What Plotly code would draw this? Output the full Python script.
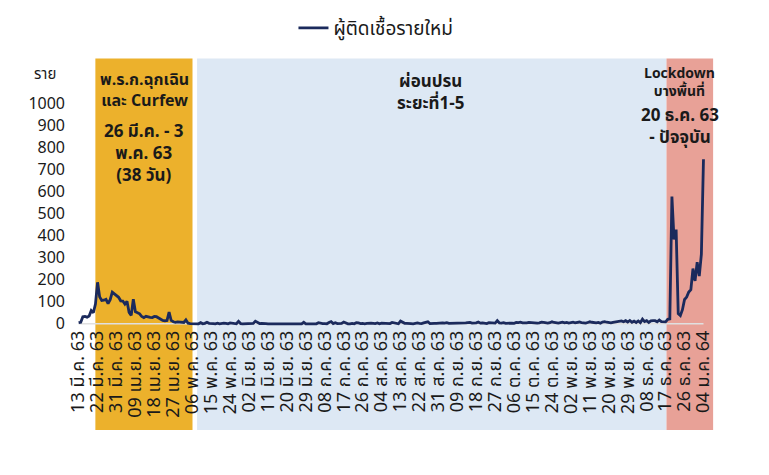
import pandas as pd
import plotly.graph_objects as go

# daily new cases, 13 Mar 2020 - 4 Jan 2021
mar = [5, 7, 32, 33, 30, 35, 60, 50, 89, 188, 122, 106, 107, 111, 91, 109, 143, 136, 127]
apr = [120, 104, 103, 89, 102, 51, 38, 111, 54, 50, 45, 33, 28, 34, 30, 29, 28, 33, 32, 27,
       19, 15, 13, 15, 53, 15, 9, 7, 9, 7]
may = [6, 6, 18, 3, 1, 1, 3, 0, 0, 5, 0, 2, 7, 2, 3, 1, 0, 3, 0, 3, 3, 2, 0, 4, 2, 1, 0, 11, 1, 0, 0]
jun = [1, 2, 0, 2, 12, 7, 1, 2, 3, 1, 0, 0, 0, 0, 1, 0, 0, 0, 0, 0, 1, 3, 0, 0, 1, 0, 0, 7, 0, 0]
jul = [0, 1, 3, 0, 5, 2, 1, 1, 0, 6, 10, 1, 5, 1, 3, 2, 8, 2, 0, 0, 2, 0, 5, 4, 1, 2, 0, 2, 4, 3, 2]
aug = [1, 4, 0, 3, 2, 2, 0, 1, 6, 3, 2, 0, 12, 5, 2, 2, 3, 1, 0, 3, 4, 2, 1, 4, 5, 9, 1, 3, 2, 2, 3]
sep = [6, 4, 3, 5, 2, 2, 4, 1, 3, 4, 2, 1, 4, 5, 6, 3, 3, 4, 8, 3, 4, 1, 1, 5, 4, 3, 3, 14, 4, 3]
octo = [5, 2, 3, 4, 3, 2, 6, 5, 7, 4, 3, 4, 6, 5, 3, 2, 3, 4, 7, 6, 4, 3, 5, 9, 6, 4, 3, 5, 7, 4, 6]
nov = [3, 5, 7, 4, 6, 8, 5, 4, 3, 6, 9, 7, 5, 4, 6, 3, 8, 10, 7, 5, 4, 6, 7, 8, 10, 13, 9, 14, 8, 15]
dec = [7, 12, 6, 13, 5, 21, 10, 14, 6, 13, 14, 14, 9, 17, 10, 10, 9, 20, 22, 576, 382, 427, 46, 37,
       64, 110, 121, 144, 155, 250, 194]
jan = [279, 216, 315, 745]

cases = mar + apr + may + jun + jul + aug + sep + octo + nov + dec + jan
dates = pd.date_range("2020-03-13", "2021-01-04")

tick_labels = ["13 มี.ค. 63", "22 มี.ค. 63", "31 มี.ค. 63", "09 เม.ย. 63", "18 เม.ย. 63",
               "27 เม.ย. 63", "06 พ.ค. 63", "15 พ.ค. 63", "24 พ.ค. 63", "02 มิ.ย. 63",
               "11 มิ.ย. 63", "20 มิ.ย. 63", "29 มิ.ย. 63", "08 ก.ค. 63", "17 ก.ค. 63",
               "26 ก.ค. 63", "04 ส.ค. 63", "13 ส.ค. 63", "22 ส.ค. 63", "31 ส.ค. 63",
               "09 ก.ย. 63", "18 ก.ย. 63", "27 ก.ย. 63", "06 ต.ค. 63", "15 ต.ค. 63",
               "24 ต.ค. 63", "02 พ.ย. 63", "11 พ.ย. 63", "20 พ.ย. 63", "29 พ.ย. 63",
               "08 ธ.ค. 63", "17 ธ.ค. 63", "26 ธ.ค. 63", "04 ม.ค. 64"]
tick_vals = dates[::9]

# shaded periods (start, end, colour)
periods = [
    ("2020-03-20 23:00", "2020-05-06 03:00", "#ECB12C"),
    ("2020-05-08 07:00", "2020-12-17 10:00", "#DDE8F4"),
    ("2020-12-17 10:00", "2021-01-08 14:00", "#E8A197"),
]

FONT = "Tahoma, 'Noto Sans Thai', Loma, 'DejaVu Sans', sans-serif"
TXT = "#1a1a1a"

fig = go.Figure()
fig.add_trace(go.Scatter(
    x=dates, y=cases, mode="lines", name="ผู้ติดเชื้อรายใหม่",
    line=dict(color="#1B2A5C", width=2.8),
))

for x0, x1, col in periods:
    fig.add_shape(type="rect", xref="x", yref="paper", x0=x0, x1=x1,
                  y0=-0.466, y1=1.2, fillcolor=col, line_width=0, layer="below")

# light axis line at zero
fig.add_shape(type="line", xref="x", yref="y", x0=dates[0], x1=dates[-1], y0=0, y1=0,
              line=dict(color="#E0E0E0", width=1.5), layer="between")

notes = [
    (0.121, 1.058, "<b>พ.ร.ก.ฉุกเฉิน<br>และ Curfew</b>", 16),
    (0.121, 0.771, "<b>26 มี.ค. - 3<br>พ.ค. 63<br>(38 วัน)</b>", 17),
    (0.562, 1.047, "<b>ผ่อนปรน<br>ระยะที่1-5</b>", 17),
    (0.946, 1.090, "<b>Lockdown<br>บางพื้นที่</b>", 14),
    (0.948, 0.892, "<b>20 ธ.ค. 63<br>- ปัจจุบัน</b>", 17),
]
for x, y, t, s in notes:
    fig.add_annotation(x=x, y=y, xref="paper", yref="paper", text=t, showarrow=False,
                       xanchor="center", yanchor="middle", align="center",
                       font=dict(size=s, color=TXT, family=FONT))

fig.add_annotation(x=-0.032, y=1.126, xref="paper", yref="paper", text="ราย", showarrow=False,
                   xanchor="center", yanchor="middle", font=dict(size=15, color=TXT, family=FONT))

fig.update_layout(
    width=769, height=475,
    margin=dict(l=58, r=63, t=95, b=157),
    paper_bgcolor="white", plot_bgcolor="rgba(0,0,0,0)",
    font=dict(family=FONT, color=TXT),
    showlegend=True,
    legend=dict(orientation="h", x=0.4785, y=0.958, xref="container", yref="container",
                xanchor="center", yanchor="middle",
                font=dict(size=19, color=TXT, family=FONT), bgcolor="rgba(0,0,0,0)"),
    xaxis=dict(range=["2020-03-07", "2021-01-09"], tickmode="array", tickvals=tick_vals,
               ticktext=tick_labels, tickangle=-90, showgrid=False, zeroline=False,
               showline=False, ticks="", automargin=False, tickfont=dict(size=18, color=TXT)),
    yaxis=dict(range=[-10, 1000], tickmode="array", tickvals=list(range(0, 1001, 100)),
               showgrid=False, zeroline=False, showline=False, ticks="", automargin=False,
               tickfont=dict(size=16, color=TXT)),
)

fig.write_html("out.html")
